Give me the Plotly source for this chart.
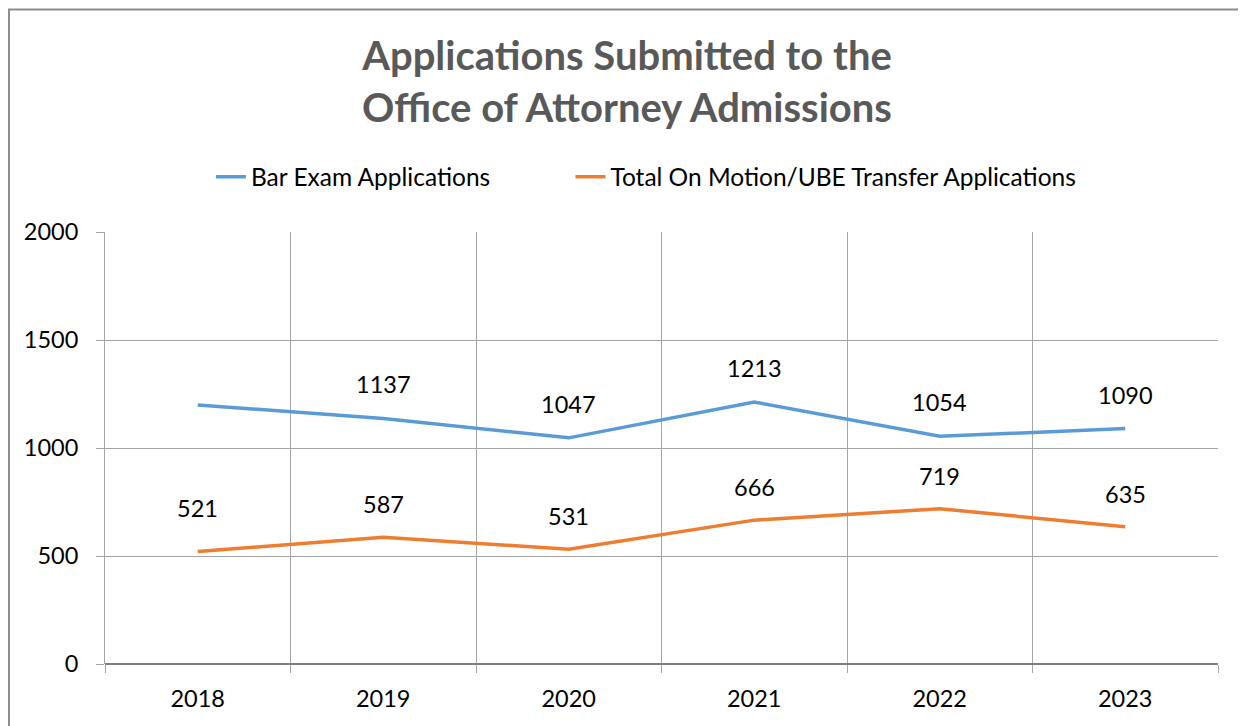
import plotly.graph_objects as go

years = ["2018", "2019", "2020", "2021", "2022", "2023"]
bar_exam = [1199, 1137, 1047, 1213, 1054, 1090]
bar_exam_labels = ["", "1137", "1047", "1213", "1054", "1090"]
on_motion = [521, 587, 531, 666, 719, 635]
on_motion_labels = ["521", "587", "531", "666", "719", "635"]
y_ticks = [0, 500, 1000, 1500, 2000]

FONT = "Lato"
NB = "\u00a0"
fig = go.Figure()
fig.add_trace(go.Scatter(x=years, y=bar_exam, mode="lines",
                         name="Bar Exam Applications" + NB * 12,
                         line=dict(color="#5B9BD5", width=3.5)))
fig.add_trace(go.Scatter(x=years, y=on_motion, mode="lines",
                         name="Total On Motion/UBE Transfer Applications",
                         line=dict(color="#ED7D31", width=3.5)))

anns = []
for i, (y, t) in enumerate(zip(bar_exam, bar_exam_labels)):
    if t:
        anns.append(dict(x=i, y=y, xref="x", yref="y", text=t, showarrow=False, yshift=34,
                         font=dict(family=FONT, size=23.5, color="#000000")))
for i, (y, t) in enumerate(zip(on_motion, on_motion_labels)):
    anns.append(dict(x=i, y=y, xref="x", yref="y", text=t, showarrow=False,
                     yshift=43 if i == 0 else 33,
                     font=dict(family=FONT, size=23.5, color="#000000")))

fig.update_layout(
    width=1238, height=718,
    paper_bgcolor="white", plot_bgcolor="white",
    margin=dict(l=97, r=28, t=224, b=62),
    title=dict(text="<b>Applications Submitted to the<br>Office of Attorney Admissions</b>",
               x=0.5, xanchor="center", y=0.913, yanchor="top",
               font=dict(family=FONT, size=40, color="#595959")),
    legend=dict(orientation="h", x=0.486, xanchor="center", y=1.128, yanchor="middle",
                font=dict(family=FONT, size=24.5, color="#000000"),
                bgcolor="rgba(0,0,0,0)"),
    annotations=anns,
    xaxis=dict(type="category", range=[-0.5, 5.5], tickson="boundaries", showgrid=True,
               gridcolor="#A6A6A6", gridwidth=1, ticks="outside", ticklen=8, tickcolor="#A6A6A6",
               showline=False, tickfont=dict(family=FONT, size=23.5, color="#000000"),
               ticklabelstandoff=18, zeroline=False),
    yaxis=dict(range=[0, 2000], tickvals=y_ticks, showgrid=True, gridcolor="#A6A6A6",
               gridwidth=1, ticks="outside", ticklen=8, tickcolor="#A6A6A6",
               showline=True, linecolor="#A6A6A6", ticklabelstandoff=13,
               tickfont=dict(family=FONT, size=23.5, color="#000000"), zeroline=True,
               zerolinecolor="#808080", zerolinewidth=1.5),
    shapes=[dict(type="rect", xref="paper", yref="paper", x0=-0.0863, x1=1.1, y0=-0.3, y1=1.515,
                 line=dict(color="#8C8C8C", width=2), fillcolor="rgba(0,0,0,0)", layer="below")],
)
fig.write_html("out.html")
